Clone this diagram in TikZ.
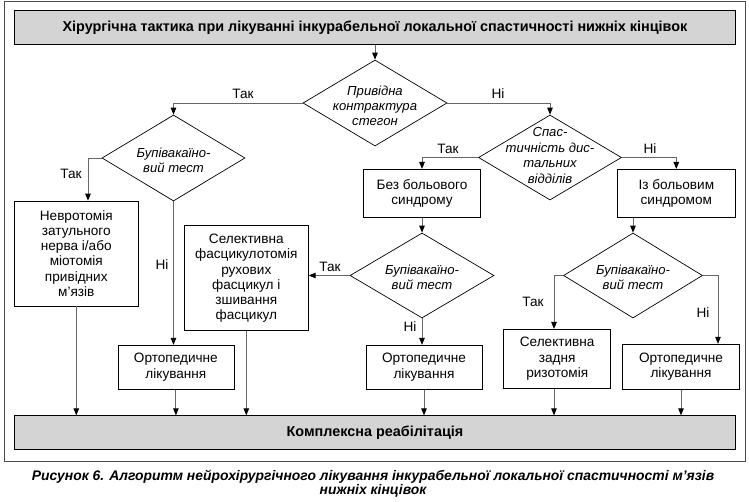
\documentclass[tikz,border=0pt]{standalone}
\usepackage{fontspec}
\setmainfont{Liberation Sans}
\usetikzlibrary{shapes.geometric,arrows.meta}
\begin{document}
\begin{tikzpicture}[x=1pt,y=-1pt,
 every node/.style={font=\fontsize{13.6}{15.2}\selectfont},
 box/.style={draw=black, line width=0.7pt, fill=white, align=center, inner sep=0pt},
 graybox/.style={draw=black, line width=0.7pt, fill=black!17, align=center, inner sep=0pt, font=\fontsize{14.4}{15.2}\selectfont\bfseries},
 dia/.style={draw=black, line width=0.7pt, shape=diamond, inner sep=0pt, fill=white},
 ditext/.style={align=center, font=\fontsize{13.1}{15}\selectfont\itshape, inner sep=0pt},
 conn/.style={draw=black!60, line width=0.9pt},
 arr/.style={conn, -{Triangle[length=7pt,width=5.5pt,color=black]}},
 lbl/.style={font=\fontsize{13.6}{15}\selectfont, inner sep=0pt}
]
\useasboundingbox (0,0) rectangle (749,501);
\draw[black!70, line width=0.7pt] (4.5,1) rectangle (745.5,461);

% header and bottom
\node[graybox, minimum width=721pt, minimum height=34pt] (head) at (375,27.5)
  {Хірургічна тактика при лікуванні інкурабельної локальної спастичності нижніх кінцівок};
\node[graybox, minimum width=721pt, minimum height=34pt] (kompl) at (375,432.7)
  {Комплексна реабілітація};

% diamonds
\node[dia, minimum width=144pt, minimum height=86pt,
  label={[ditext, yshift=-3pt]center:{Привідна\\контрактура\\стегон}}] (d1) at (375,103) {};
\node[dia, minimum width=143pt, minimum height=86pt,
  label={[ditext, yshift=-2pt]center:{Бупівакаїно-\\вий тест}}] (d3) at (173.5,158) {};
\node[dia, minimum width=143pt, minimum height=85pt,
  label={[ditext, yshift=2pt, font=\fontsize{13.1}{15.6}\selectfont\itshape]center:{Спас-\\тичність дис-\\тальних\\відділів}}] (d2) at (550,157.5) {};
\node[dia, minimum width=144pt, minimum height=85pt,
  label={[ditext, yshift=-2pt]center:{Бупівакаїно-\\вий тест}}] (d4) at (422,275.5) {};
\node[dia, minimum width=139pt, minimum height=85pt,
  label={[ditext, yshift=-2pt]center:{Бупівакаїно-\\вий тест}}] (d5) at (633,275.5) {};

% boxes
\node[box, minimum width=124pt, minimum height=105pt] (b1) at (76.3,253.5)
  {Невротомія\\затульного\\нерва і/або\\міотомія\\привідних\\м’язів};
\node[box, minimum width=124pt, minimum height=105pt] (b2) at (246.3,278.3)
  {Селективна\\фасцикулотомія\\рухових\\фасцикул і\\зшивання\\фасцикул};
\node[box, minimum width=117.4pt, minimum height=48pt] (b3) at (422,193.3)
  {Без больового\\синдрому};
\node[box, minimum width=117.4pt, minimum height=48pt] (b4) at (676.3,193.3)
  {Із больовим\\синдромом};
\node[box, minimum width=116pt, minimum height=44pt] (o1) at (175.9,367.2)
  {Ортопедичне\\лікування};
\node[box, minimum width=116pt, minimum height=44pt] (o2) at (424,367.2)
  {Ортопедичне\\лікування};
\node[box, minimum width=107pt, minimum height=59pt] (r) at (557.2,358.8)
  {Селективна\\задня\\ризотомія};
\node[box, minimum width=117pt, minimum height=45pt] (o3) at (681,366.7)
  {Ортопедичне\\лікування};

% helper coordinates
\coordinate (c1) at (88,0);
\coordinate (c2) at (554,0);
\coordinate (c3) at (718,0);

% connectors
\draw[arr] (head.south -| d1.north) -- (d1.north);
\draw[arr] (d1.west) -| (d3.north);
\draw[arr] (d1.east) -| (d2.north);
\draw[arr] (d3.west) -| (c1 |- b1.north);
\draw[arr] (d3.south) -- (d3.south |- o1.north);
\draw[arr] (b1.south) -- (b1.south |- kompl.north);
\draw[arr] (o1.south) -- (o1.south |- kompl.north);
\draw[arr] (b2.south) -- (b2.south |- kompl.north);
\draw[arr] (d4.west) -- (d4.west -| b2.east);
\draw[arr] (b3.south) -- (d4.north);
\draw[arr] (d4.south) -- (d4.south |- o2.north);
\draw[arr] (o2.south) -- (o2.south |- kompl.north);
\draw[arr] (d2.west) -| (b3.north);
\draw[arr] (d2.east) -| (b4.north);
\draw[arr] (b4.south -| d5.north) -- (d5.north);
\draw[arr] (d5.west) -| (c2 |- r.north);
\draw[arr] (d5.east) -| (c3 |- o3.north);
\draw[arr] (r.south -| c2) -- (c2 |- kompl.north);
\draw[arr] (o3.south) -- (o3.south |- kompl.north);

% labels
\node[lbl] (l1) at (243,94) {Так};
\node[lbl] (l2) at (498,94) {Ні};
\node[lbl] (l3) at (71,174) {Так};
\node[lbl] (l4) at (162,265) {Ні};
\node[lbl] (l5) at (330,267) {Так};
\node[lbl] (l6) at (448,149) {Так};
\node[lbl] (l7) at (650,149) {Ні};
\node[lbl] (l8) at (410,327) {Ні};
\node[lbl] (l9) at (533,301.7) {Так};
\node[lbl] (l10) at (703,312.7) {Ні};

% caption
\node[align=center, inner sep=0pt, font=\fontsize{13.9}{13.5}\selectfont\bfseries\itshape] (cap) at (373,483.5)
  {Рисунок 6. Алгоритм нейрохірургічного лікування інкурабельної локальної спастичності м’язів\\нижніх кінцівок};
\end{tikzpicture}
\end{document}
